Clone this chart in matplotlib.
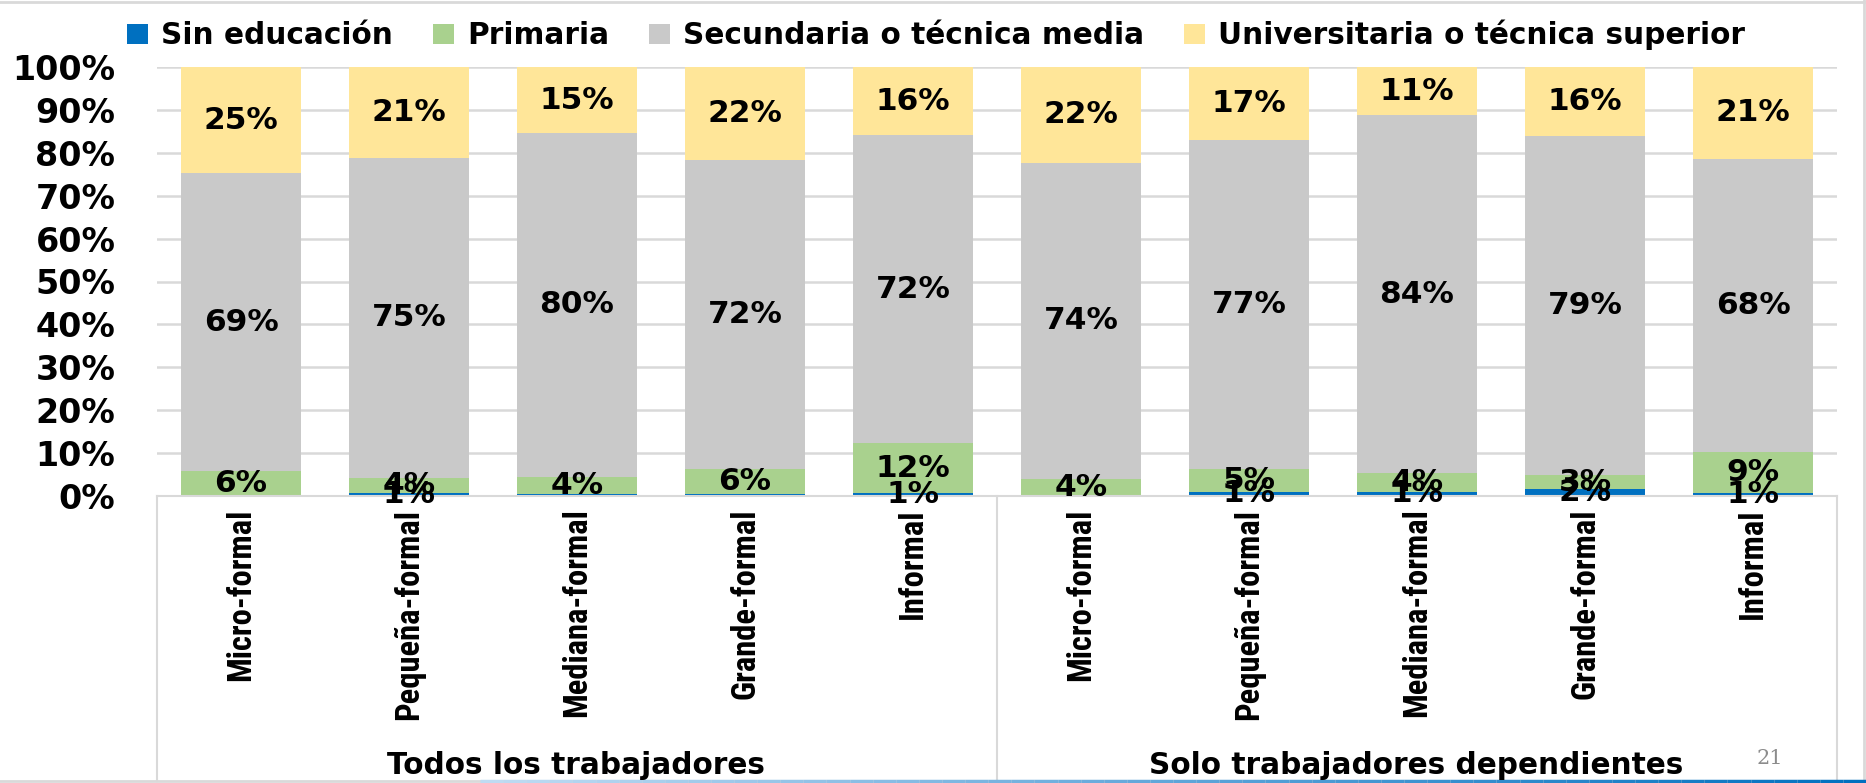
import numpy as np
import matplotlib
matplotlib.use("Agg")
import matplotlib.pyplot as plt
from matplotlib import font_manager
from matplotlib.patches import Patch
from matplotlib.lines import Line2D

# ---------------- data ----------------
categories = ["Micro-formal", "Pequeña-formal", "Mediana-formal", "Grande-formal", "Informal",
              "Micro-formal", "Pequeña-formal", "Mediana-formal", "Grande-formal", "Informal"]
groups = ["Todos los trabajadores", "Solo trabajadores dependientes"]
series_names = ["Sin educación", "Primaria", "Secundaria o técnica media",
                "Universitaria o técnica superior"]
sin_educacion = [0.0, 0.7, 0.4, 0.4, 0.7, 0.0, 1.0, 1.0, 1.6, 0.8]
primaria = [5.8, 3.6, 4.1, 5.9, 11.6, 3.9, 5.4, 4.3, 3.3, 9.4]
secundaria = [69.4, 74.6, 80.1, 72.0, 71.8, 73.8, 76.6, 83.5, 78.9, 68.4]
universitaria = [24.8, 21.1, 15.4, 21.7, 15.9, 22.3, 17.0, 11.2, 16.2, 21.4]
yticks = [0, 10, 20, 30, 40, 50, 60, 70, 80, 90, 100]
ytick_labels = [f"{t}%" for t in yticks]
slide_number = "21"

colors = ["#0070C0", "#A9D18E", "#C9C9C9", "#FFE699"]

# ---------------- fonts ----------------
avail = {f.name for f in font_manager.fontManager.ttflist}
cond_family = "DejaVu Sans"
for cand in ["Roboto Condensed", "Liberation Sans Narrow", "Open Sans Condensed", "Noto Sans Condensed"]:
    if cand in avail:
        cond_family = cand
        break
main_family = "DejaVu Sans"

# ---------------- figure ----------------
W, H = 1866, 783
fig = plt.figure(figsize=(W / 100, H / 100), dpi=100)
ax_left, ax_right, ax_top, ax_bottom = 157, 1837, 67, 496
ax = fig.add_axes([ax_left / W, (H - ax_bottom) / H,
                   (ax_right - ax_left) / W, (ax_bottom - ax_top) / H])

x = np.arange(len(categories))
series = [sin_educacion, primaria, secundaria, universitaria]
bottom = np.zeros(len(categories))
for vals, col in zip(series, colors):
    vals = np.array(vals, dtype=float)
    ax.bar(x, vals, bottom=bottom, width=0.715, color=col, edgecolor="none", zorder=2)
    for xi, b, v in zip(x, bottom, vals):
        if round(v) >= 1:
            ax.text(xi, b + v / 2, f"{v:.0f}%", ha="center", va="center",
                    fontsize=22.5, fontweight="bold", family=main_family,
                    color="black", zorder=4)
    bottom += vals

ax.set_xlim(-0.5, len(categories) - 0.5)
ax.set_ylim(0, 100)
ax.set_yticks(yticks)
ax.set_yticklabels(ytick_labels, fontsize=24, fontweight="bold", family=main_family)
ax.tick_params(axis="y", length=0, pad=30)
ax.yaxis.grid(True, color="#D9D9D9", linewidth=1.8)
ax.set_axisbelow(True)
ax.set_xticks(x)
ax.set_xticklabels(categories, rotation=90, va="top", ha="center",
                   fontsize=23.5, fontweight="bold", family=cond_family)
ax.tick_params(axis="x", length=0, pad=9)
for s in ["left", "right", "top"]:
    ax.spines[s].set_visible(False)
ax.spines["bottom"].set_color("#D9D9D9")
ax.spines["bottom"].set_linewidth(1.5)

# category group box lines
box_bottom = -(781 - ax_bottom) / (ax_bottom - ax_top)
trans = matplotlib.transforms.blended_transform_factory(ax.transData, ax.transAxes)
for xv in [-0.5, 4.5, 9.5]:
    ax.add_line(Line2D([xv, xv], [0, box_bottom], transform=trans, color="#D9D9D9",
                       linewidth=1.5, clip_on=False))

# group labels
fig.text(576 / W, 1 - 766 / H, groups[0], ha="center", va="center",
         fontsize=21.3, fontweight="bold", family=main_family)
fig.text(1416 / W, 1 - 766 / H, groups[1], ha="center", va="center",
         fontsize=21.3, fontweight="bold", family=main_family)

# legend
handles = [Patch(facecolor=c, edgecolor="none") for c in colors]
fig.legend(handles, series_names, loc="center left", bbox_to_anchor=(127 / W, 1 - 35 / H),
           ncol=4, frameon=False, prop={"size": 21.3, "weight": "bold", "family": main_family},
           handlelength=0.7, handleheight=0.7, handletextpad=0.45, columnspacing=1.35,
           borderpad=0, borderaxespad=0)

# slide number
fig.text(1770 / W, 1 - 759 / H, slide_number, ha="center", va="center",
         fontsize=15, family="DejaVu Serif", color="#8C8C8C")

# slide frame lines
fig.add_artist(Line2D([0, 1], [1 - 1.5 / H, 1 - 1.5 / H], transform=fig.transFigure,
                      color="#D9D9D9", linewidth=2))
fig.add_artist(Line2D([1 - 2 / W, 1 - 2 / W], [0, 1], transform=fig.transFigure,
                      color="#D9D9D9", linewidth=2))
fig.add_artist(Line2D([0, 1], [2 / H, 2 / H], transform=fig.transFigure,
                      color="#D9D9D9", linewidth=2))
# blue gradient footer line
n = 60
xs = np.linspace(480 / W, 1, n + 1)
for i in range(n):
    t = i / (n - 1)
    c = (0.75 * (1 - t) + 0.0 * t, 0.86 * (1 - t) + 0.44 * t, 0.95 * (1 - t) + 0.75 * t)
    fig.add_artist(Line2D([xs[i], xs[i + 1]], [2 / H, 2 / H], transform=fig.transFigure,
                          color=c, linewidth=2.5, solid_capstyle="butt"))

fig.savefig("out.png", dpi=100)
